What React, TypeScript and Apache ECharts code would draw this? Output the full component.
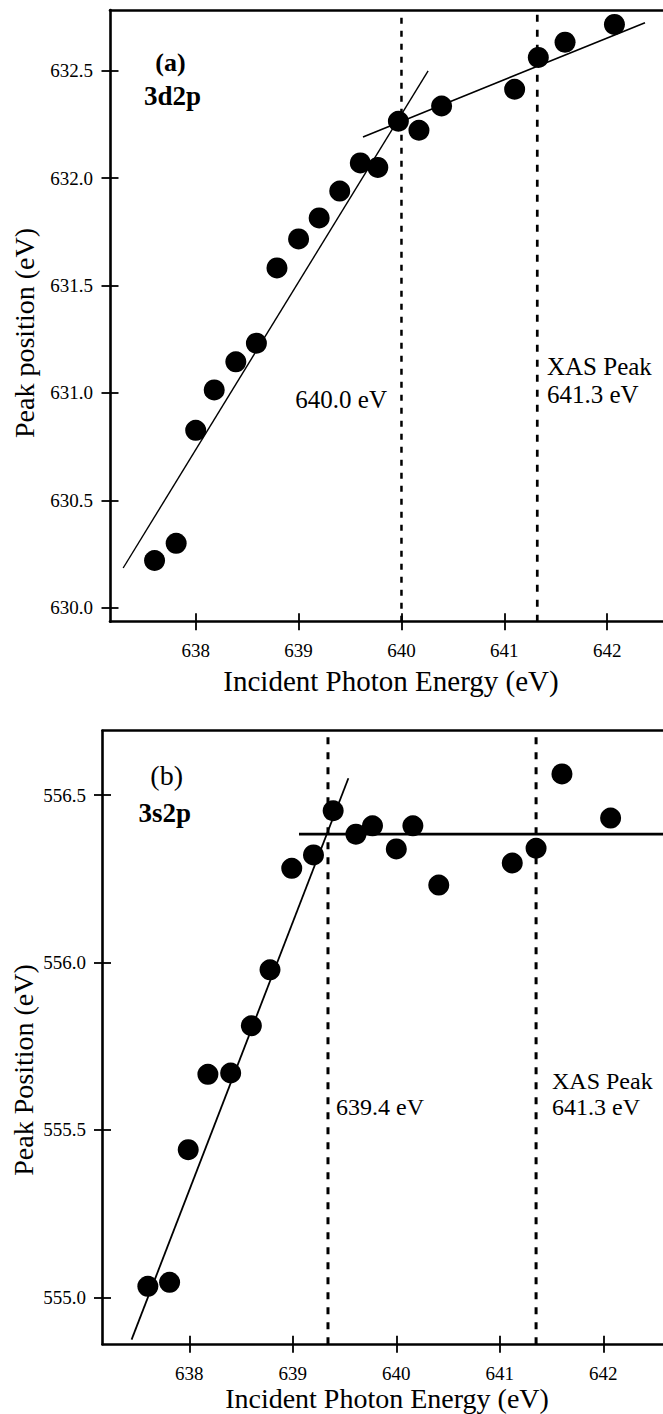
import React, { useEffect, useRef } from "react";
import * as echarts from "echarts";

// ---- Panel (a) 3d2p ----
const energiesA = [637.6, 637.81, 638.0, 638.18, 638.39, 638.59, 638.79, 639.0, 639.2, 639.4, 639.6, 639.77, 639.97, 640.17, 640.39, 641.1, 641.33, 641.59, 642.07];
const peaksA = [630.22, 630.3, 630.826, 631.014, 631.145, 631.232, 631.582, 631.717, 631.815, 631.94, 632.071, 632.05, 632.265, 632.223, 632.336, 632.414, 632.562, 632.633, 632.716];
const fitA1 = [[637.295, 630.185], [640.259, 632.5]];
const fitA2 = [[639.626, 632.192], [642.367, 632.724]];
const markersA = [640.0, 641.32];
const xRangeA = [637.167, 642.542];
const yRangeA = [629.935, 632.783];
const yTicksA = [630.0, 630.5, 631.0, 631.5, 632.0, 632.5];

// ---- Panel (b) 3s2p ----
const energiesB = [637.6, 637.81, 637.99, 638.18, 638.4, 638.6, 638.78, 638.99, 639.2, 639.39, 639.61, 639.77, 640.0, 640.16, 640.41, 641.12, 641.35, 641.6, 642.07];
const peaksB = [555.033, 555.045, 555.441, 555.666, 555.67, 555.811, 555.978, 556.281, 556.321, 556.453, 556.383, 556.408, 556.339, 556.408, 556.231, 556.297, 556.341, 556.563, 556.431];
const fitB1 = [[637.443, 554.874], [639.537, 556.55]];
const fitB2 = [[639.06, 556.383], [642.576, 556.383]];
const markersB = [639.34, 641.35];
const xRangeB = [637.162, 642.576];
const yRangeB = [554.86, 556.692];
const yTicksB = [555.0, 555.5, 556.0, 556.5];

const xTicks = [638, 639, 640, 641, 642];

const FONT = "Liberation Serif, Times New Roman, serif";

function xAxes(gridIndex: number, range: number[]) {
  const base = {
    type: "value",
    gridIndex,
    min: range[0],
    max: range[1],
    splitLine: { show: false },
  };
  return [
    {
      ...base,
      position: "bottom",
      offset: 0,
      axisLine: { show: true, onZero: false, lineStyle: { color: "#000", width: 2.6 } },
      axisTick: { show: true, inside: false, length: 8.5, customValues: xTicks, lineStyle: { color: "#000", width: 1.8 } },
      axisLabel: {
        show: true,
        customValues: xTicks,
        margin: 29,
        verticalAlign: "middle",
        color: "#000",
        fontFamily: FONT,
        fontSize: 19,
        formatter: (v: number) => String(Math.round(v)),
      },
    },
    {
      ...base,
      position: "bottom",
      offset: 0,
      axisLine: { show: false },
      axisTick: { show: true, inside: true, length: 8.5, customValues: xTicks, lineStyle: { color: "#000", width: 1.8 } },
      axisLabel: { show: false },
    },
    {
      ...base,
      position: "top",
      offset: 0,
      axisLine: { show: true, onZero: false, lineStyle: { color: "#000", width: 2.6 } },
      axisTick: { show: false },
      axisLabel: { show: false },
    },
  ];
}

function yAxes(gridIndex: number, range: number[], ticks: number[], margin: number) {
  const base = {
    type: "value",
    gridIndex,
    min: range[0],
    max: range[1],
    splitLine: { show: false },
  };
  return [
    {
      ...base,
      position: "left",
      offset: 0,
      axisLine: { show: true, onZero: false, lineStyle: { color: "#000", width: 2.6 } },
      axisTick: { show: true, inside: false, length: 8.5, customValues: ticks, lineStyle: { color: "#000", width: 1.8 } },
      axisLabel: {
        show: true,
        customValues: ticks,
        margin,
        color: "#000",
        fontFamily: FONT,
        fontSize: 19,
        formatter: (v: number) => v.toFixed(1),
      },
    },
    {
      ...base,
      position: "left",
      offset: 0,
      axisLine: { show: false },
      axisTick: { show: true, inside: true, length: 8.5, customValues: ticks, lineStyle: { color: "#000", width: 1.8 } },
      axisLabel: { show: false },
    },
  ];
}

function txt(text: string, x: number, y: number, size: number, opts: any = {}) {
  const align = opts.align || "center";
  return {
    type: "text",
    x,
    y,
    rotation: opts.rotation || 0,
    z: 100,
    style: {
      text,
      fill: "#000",
      fontFamily: FONT,
      fontSize: size,
      fontWeight: opts.bold ? "bold" : "normal",
      align,
      textAlign: align,
      verticalAlign: "middle",
      textVerticalAlign: "middle",
    },
  };
}

function vline(x: number, yRange: number[], xi: number, yi: number, width: number, dash: number[]) {
  return {
    type: "line",
    xAxisIndex: xi,
    yAxisIndex: yi,
    data: [[x, yRange[0]], [x, yRange[1]]],
    showSymbol: false,
    symbol: "none",
    silent: true,
    z: 2,
    lineStyle: { color: "#000", width, type: dash },
  };
}

function fit(points: number[][], xi: number, yi: number, width: number) {
  return {
    type: "line",
    xAxisIndex: xi,
    yAxisIndex: yi,
    data: points,
    symbol: "none",
    showSymbol: false,
    silent: true,
    z: 3,
    lineStyle: { color: "#000", width },
  };
}

function scatter(xs: number[], ys: number[], xi: number, yi: number) {
  return {
    type: "scatter",
    xAxisIndex: xi,
    yAxisIndex: yi,
    data: xs.map((x, i) => [x, ys[i]]),
    symbol: "circle",
    symbolSize: 21,
    z: 5,
    itemStyle: { color: "#000", opacity: 1 },
  };
}

export default function App() {
  const ref = useRef<HTMLDivElement>(null);
  useEffect(() => {
    if (!ref.current) return;
    const chart = echarts.init(ref.current, null, { renderer: "svg" });
    const option: any = {
      animation: false,
      backgroundColor: "#fff",
      textStyle: { fontFamily: FONT },
      grid: [
        { left: 110, top: 10, width: 553, height: 611.7, containLabel: false },
        { left: 102.5, top: 730.7, width: 560.5, height: 613.6, containLabel: false },
      ],
      xAxis: [...xAxes(0, xRangeA), ...xAxes(1, xRangeB)],
      yAxis: [...yAxes(0, yRangeA, yTicksA, 17), ...yAxes(1, yRangeB, yTicksB, 16.5)],
      series: [
        vline(markersA[0], yRangeA, 0, 0, 2.5, [6, 7]),
        vline(markersA[1], yRangeA, 0, 0, 2.7, [7, 8]),
        fit(fitA1, 0, 0, 1.4),
        fit(fitA2, 0, 0, 1.6),
        scatter(energiesA, peaksA, 0, 0),
        vline(markersB[0], yRangeB, 3, 2, 3, [7, 8]),
        vline(markersB[1], yRangeB, 3, 2, 3, [7, 8]),
        fit(fitB1, 3, 2, 1.8),
        fit(fitB2, 3, 2, 2.7),
        scatter(energiesB, peaksB, 3, 2),
      ],
      graphic: [
        txt("(a)", 170.5, 62, 26, { bold: true }),
        txt("3d2p", 172.5, 96, 27, { bold: true }),
        txt("640.0 eV", 387, 399, 25, { align: "right" }),
        txt("XAS Peak", 547, 366, 25, { align: "left" }),
        txt("641.3 eV", 547, 394, 25, { align: "left" }),
        txt("Incident Photon Energy (eV)", 391, 681, 29),
        txt("Peak position (eV)", 24, 333, 28, { rotation: Math.PI / 2 }),
        txt("(b)", 166.7, 775, 28),
        txt("3s2p", 164.7, 813, 27, { bold: true }),
        txt("639.4 eV", 336, 1107, 24, { align: "left" }),
        txt("XAS Peak", 552, 1081, 24, { align: "left" }),
        txt("641.3 eV", 552, 1107, 24, { align: "left" }),
        txt("Incident Photon Energy (eV)", 387, 1398, 28),
        txt("Peak Position (eV)", 23, 1070, 28, { rotation: Math.PI / 2 }),
      ],
    };
    chart.setOption(option);
    return () => chart.dispose();
  }, []);
  return (
    <div
      ref={ref}
      style={{ position: "absolute", left: 0, top: 0, width: 663, height: 1414, background: "#fff" }}
    />
  );
}
